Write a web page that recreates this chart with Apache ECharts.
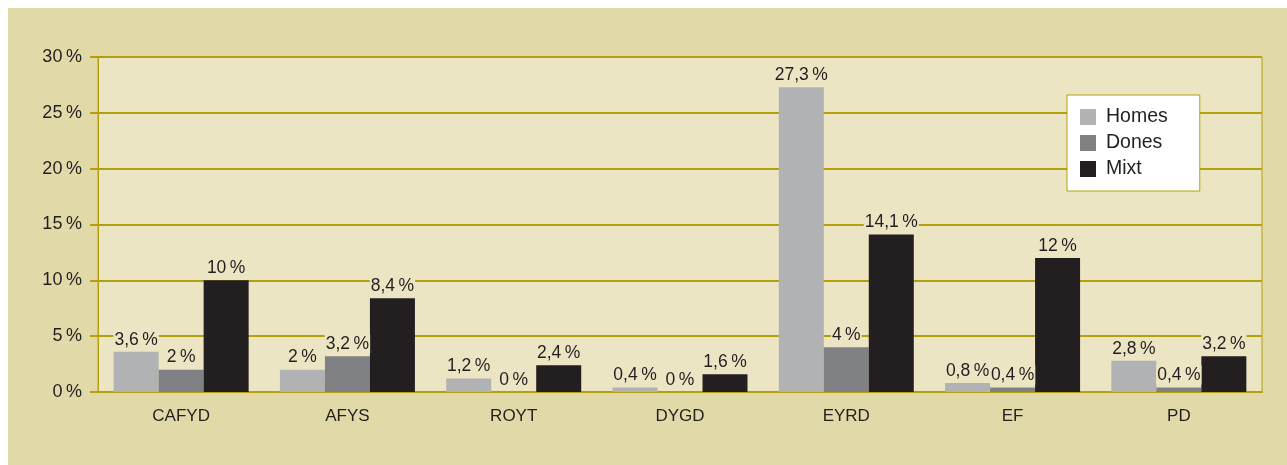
<!DOCTYPE html>
<html>
<head>
<meta charset="utf-8">
<script src="https://cdn.jsdelivr.net/npm/echarts@6/dist/echarts.min.js"></script>
<style>
    html, body { margin: 0; padding: 0; background: #ffffff; }
    #panel {
        position: absolute;
        left: 8px;
        top: 8px;
        width: 1279px;
        height: 457px;
        background: #e2d9a9;
    }
</style>
</head>
<body>
<div id="panel"></div>
<script>
const categories = ['CAFYD', 'AFYS', 'ROYT', 'DYGD', 'EYRD', 'EF', 'PD'];
const homes = [3.6, 2, 1.2, 0.4, 27.3, 0.8, 2.8];
const dones = [2, 3.2, 0, 0, 4, 0.4, 0.4];
const mixt = [10, 8.4, 2.4, 1.6, 14.1, 12, 3.2];
const yTicks = [0, 5, 10, 15, 20, 25, 30];

const olive = '#b3a00c';
const plotBg = '#ebe5c3';
const ink = '#231f20';

// 数字用逗号作小数点
const fmt = (v) => String(v).replace('.', ',') + '\u2009%';

function makeSeries(name, data, color) {
    return {
        name: name,
        type: 'bar',
        data: data,
        barWidth: 45,
        barGap: '0%',
        itemStyle: { color: color },
        label: {
            show: true,
            position: 'top',
            distance: 3,
            color: ink,
            fontSize: 17.5,
            fontFamily: 'Liberation Sans',
            backgroundColor: plotBg,
            padding: [1, 1, 0, 1],
            formatter: (p) => fmt(p.value)
        }
    };
}

const chart = echarts.init(document.getElementById('panel'));

const option = {
    animation: false,
    backgroundColor: 'transparent',
    grid: {
        left: 90,
        right: 25,
        top: 49,
        bottom: 73,
        show: true,
        backgroundColor: plotBg,
        borderColor: olive,
        borderWidth: 1
    },
    legend: {
        orient: 'vertical',
        left: 1059,
        top: 87,
        data: ['Homes', 'Dones', 'Mixt'],
        icon: 'rect',
        itemWidth: 16,
        itemHeight: 16,
        itemGap: 6,
        backgroundColor: '#ffffff',
        borderColor: olive,
        borderWidth: 1,
        padding: [12, 32, 12, 13],
        textStyle: {
            color: ink,
            fontSize: 19.5,
            fontFamily: 'Liberation Sans',
            padding: [0, 0, 0, 5]
        }
    },
    xAxis: {
        type: 'category',
        data: categories,
        axisLine: { lineStyle: { color: olive, width: 2 } },
        axisTick: { show: false },
        axisLabel: {
            color: ink,
            fontSize: 17,
            fontFamily: 'Liberation Sans',
            margin: 16
        }
    },
    yAxis: {
        type: 'value',
        min: yTicks[0],
        max: yTicks[yTicks.length - 1],
        interval: 5,
        axisLine: { show: true, lineStyle: { color: olive, width: 1 } },
        axisTick: { show: true, length: 8, lineStyle: { color: olive, width: 2 } },
        axisLabel: {
            color: ink,
            fontSize: 18,
            fontFamily: 'Liberation Sans',
            margin: 16,
            formatter: (v) => v + '\u2009%'
        },
        splitLine: { lineStyle: { color: olive, width: 2 } }
    },
    series: [
        makeSeries('Homes', homes, '#b1b2b4'),
        makeSeries('Dones', dones, '#808184'),
        makeSeries('Mixt', mixt, ink)
    ]
};

chart.setOption(option);

window.addEventListener('resize', () => {
    chart.resize();
});
</script>
</body>
</html>
